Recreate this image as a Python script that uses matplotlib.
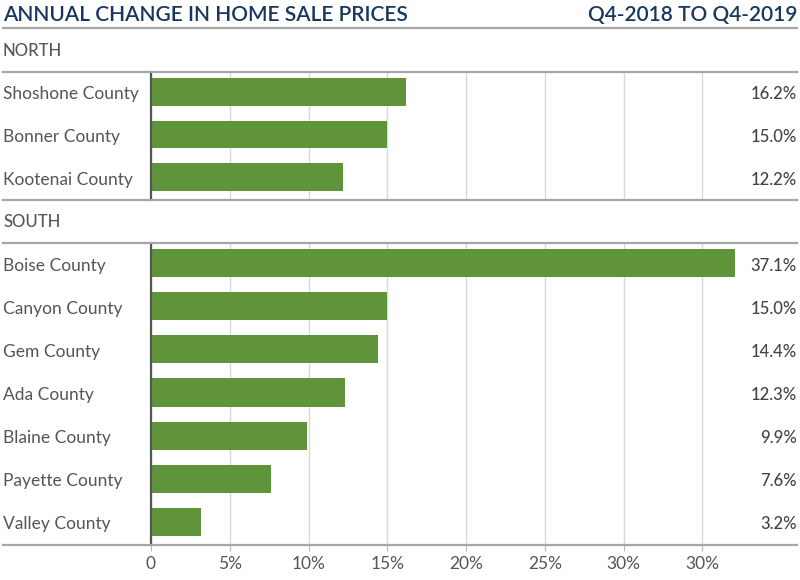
import matplotlib
matplotlib.use("Agg")
import matplotlib.pyplot as plt
from matplotlib.transforms import blended_transform_factory as btf, offset_copy
from matplotlib.lines import Line2D

title = "ANNUAL CHANGE IN HOME SALE PRICES"
period = "Q4-2018 TO Q4-2019"
north_names = ["Shoshone County", "Bonner County", "Kootenai County"]
north_vals = [16.2, 15.0, 12.2]
south_names = ["Boise County", "Canyon County", "Gem County", "Ada County",
               "Blaine County", "Payette County", "Valley County"]
south_vals = [37.1, 15.0, 14.4, 12.3, 9.9, 7.6, 3.2]
tick_vals = [0, 5, 10, 15, 20, 25, 30, 35]
tick_labels = ["0", "5%", "10%", "15%", "20%", "25%", "30%", "30%"]

W, H = 800, 580
fig = plt.figure(figsize=(W / 100, H / 100), dpi=100)
plt.rcParams['font.family'] = ['Lato', 'DejaVu Sans']

GREEN = "#5f943b"
NAVY = "#17375e"
GRAY_TXT = "#555555"
VAL_TXT = "#444444"

def fy(py):
    return 1 - py / H

def fx(px):
    return px / W

X0, X1 = 151, 797
XMAX = (X1 - X0) / 15.75

def make_axes(top, bottom, names, vals):
    ax = fig.add_axes([fx(X0), fy(bottom), fx(X1) - fx(X0), (bottom - top) / H])
    n = len(names)
    ypos = list(range(n))
    ax.barh(ypos, vals, height=0.65, color=GREEN, zorder=3)
    ax.set_ylim(n - 0.5 + 0.035, -0.5 + 0.035)
    ax.set_xlim(0, XMAX)
    ax.set_xticks(tick_vals)
    ax.grid(axis='x', color='#d9d9d9', linewidth=1, zorder=0)
    ax.set_yticks([])
    for s in ['top', 'right', 'bottom']:
        ax.spines[s].set_visible(False)
    ax.spines['left'].set_color('#555555')
    ax.spines['left'].set_linewidth(1.6)
    ax.spines['left'].set_zorder(4)
    tr = offset_copy(btf(fig.transFigure, ax.transData), fig=fig, x=0, y=-2.5,
                     units='dots')
    for i, (nm, v) in enumerate(zip(names, vals)):
        ax.text(fx(3), i, nm, transform=tr, ha='left', va='center',
                fontsize=12.5, color=GRAY_TXT, fontweight='normal')
        ax.text(fx(797), i, f"{v:.1f}%", transform=tr, ha='right', va='center',
                fontsize=12, color=VAL_TXT, fontweight='medium')
    ax.set_facecolor('none')
    return ax

axn = make_axes(72, 200, north_names, north_vals)
axn.tick_params(axis='x', length=0, labelbottom=False)
axs = make_axes(243, 545, south_names, south_vals)
axs.set_xticklabels(tick_labels)
axs.tick_params(axis='x', length=4, color='#bbbbbb', labelsize=12.5,
                labelcolor=GRAY_TXT, pad=4)

# separator lines
for py in [28, 72, 200, 243, 545]:
    fig.add_artist(Line2D([fx(3), fx(797)], [fy(py), fy(py)], color='#a6a6a6',
                          linewidth=1.6, zorder=5))

fig.text(fx(3), fy(15), title, ha='left', va='center', fontsize=15,
         color=NAVY, fontweight='semibold')
fig.text(fx(797), fy(15), period, ha='right', va='center', fontsize=15,
         color=NAVY, fontweight='semibold')
fig.text(fx(3), fy(51), "NORTH", ha='left', va='center', fontsize=12,
         color=GRAY_TXT, fontweight='medium')
fig.text(fx(3), fy(222), "SOUTH", ha='left', va='center', fontsize=12,
         color=GRAY_TXT, fontweight='medium')

fig.savefig("out.png", dpi=100)
